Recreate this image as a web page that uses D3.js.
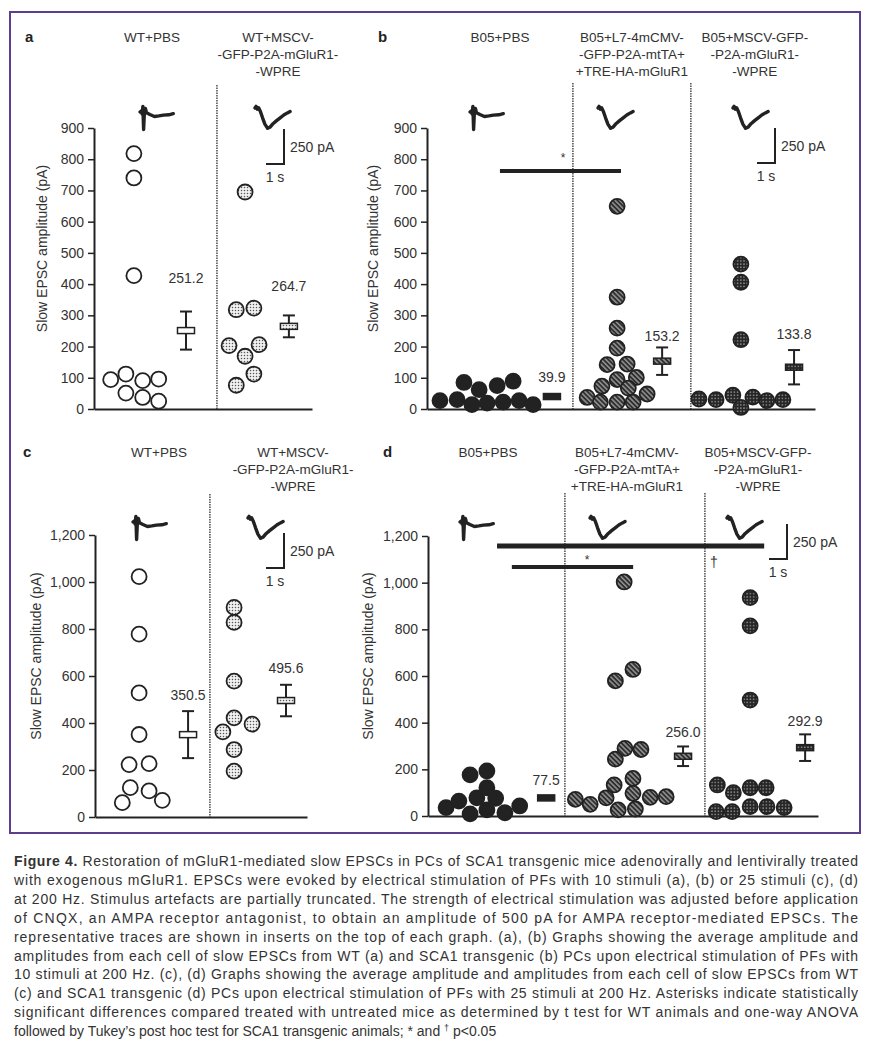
<!DOCTYPE html>
<html>
<head>
<meta charset="utf-8">
<script src="https://cdn.jsdelivr.net/npm/d3@7"></script>
<style>
  body { margin: 0; background: #fff; }
  svg text { font-family: "Liberation Sans", Arial, sans-serif; fill: #333; }
</style>
</head>
<body>
<div id="chart"></div>
<script>
// ---- data ----
var headersWT = [["WT+PBS"], ["WT+MSCV-", "-GFP-P2A-mGluR1-", "-WPRE"]];
var headersB05 = [["B05+PBS"], ["B05+L7-4mCMV-", "-GFP-P2A-mtTA+", "+TRE-HA-mGluR1"], ["B05+MSCV-GFP-", "-P2A-mGluR1-", "-WPRE"]];

var ticks10 = [0, 100, 200, 300, 400, 500, 600, 700, 800, 900];
var ticks25 = [0, 200, 400, 600, 800, 1000, 1200];

// panel a : WT, 10 stimuli
var aValues = [[818, 740, 427, 94, 112, 91, 96, 51, 37, 25], [695, 318, 323, 203, 169, 206, 112, 76]];
var aLanes = [[0, 0, 0, -2.9, -1, 1.1, 3.1, -1, 1.1, 3.1], [0, -1.1, 1.1, -2, 0, 1.75, 1.1, -1.1]];
var aMeans = [251.2, 264.7];
var aSem = [61, 35];

// panel b : B05, 10 stimuli
var bValues = [[27, 30, 85, 14, 62, 19, 75, 22, 89, 27, 14],
               [649, 358, 259, 195, 142, 144, 94, 73, 101, 67, 48, 37, 22, 22, 22],
               [464, 406, 222, 32, 30, 44, 38, 5, 27, 30]];
var bLanes = [[-5.9, -3.75, -2.9, -1.9, -1, 0, 1.25, 2, 3.25, 4, 5.75],
              [0, 0, 0, 0, -1.25, 1.25, 0, -1.9, 2.4, 1.4, 3.75, -3.75, -2.1, 0, 2],
              [0, 0, 0, -5.25, -3.1, -1, 1.5, 0, 3.25, 5.25]];
var bMeans = [39.9, 153.2, 133.8];
var bSem = [5, 44, 55];

// panel c : WT, 25 stimuli
var cValues = [[1023, 778, 528, 351, 223, 227, 125, 111, 61, 71], [892, 828, 578, 422, 395, 362, 287, 195]];
var cLanes = [[0, 0, 0, 0, -1.25, 1.25, -1.1, 1.25, -2.1, 2.9], [0, 0, 0, 0, 2.25, -1.4, 0, 0]];
var cMeans = [350.5, 495.6];
var cSem = [100, 67];

// panel d : B05, 25 stimuli
var dValues = [[36, 64, 176, 9, 78, 193, 121, 26, 76, 14, 43],
               [1003, 579, 628, 290, 285, 244, 133, 161, 97, 71, 50, 78, 26, 30, 80, 83],
               [936, 815, 497, 133, 100, 121, 121, 19, 19, 40, 40, 36]];
var dLanes = [[-5.1, -3.5, -2.1, -2.1, -1.25, 0, 0, 0, 1.1, 2.25, 4.1],
              [0, -1.1, 1.1, 0.1, 2.1, -1.1, -1.25, 1.1, 1.1, -6.1, -4.25, -2.25, -0.75, 1.4, 3.25, 5.25],
              [0, 0, 0, -4.1, -2.1, 0, 2, -4.25, -2.25, 0, 2.1, 4.25]];
var dMeans = [77.5, 256.0, 292.9];
var dSem = [6, 42, 57];

// representative traces: [time (s), current (pA)]
var tracePBS = [[0, 0], [0.08, 8], [0.12, -15], [0.16, 40], [0.2, -125], [0.24, -10], [0.3, 25], [0.36, -5],
                [0.55, -18], [0.8, -32], [1.05, -28], [1.3, -22], [1.6, -20], [1.85, -12]];
var traceMGluR = [[0, 0], [0.06, 12], [0.12, -8], [0.2, 2], [0.3, -25], [0.42, -70], [0.55, -115], [0.7, -145],
                  [0.85, -135], [1.0, -112], [1.2, -90], [1.4, -70], [1.6, -50], [1.8, -35], [1.95, -25]];

var captionLines = [
  "Restoration of mGluR1-mediated slow EPSCs in PCs of SCA1 transgenic mice adenovirally and lentivirally treated",
  "with exogenous mGluR1. EPSCs were evoked by electrical stimulation of PFs with 10 stimuli (a), (b) or 25 stimuli (c), (d)",
  "at 200 Hz. Stimulus artefacts are partially truncated. The strength of electrical stimulation was adjusted before application",
  "of CNQX, an AMPA receptor antagonist, to obtain an amplitude of 500 pA for AMPA receptor-mediated EPSCs. The",
  "representative traces are shown in inserts on the top of each graph. (a), (b) Graphs showing the average amplitude and",
  "amplitudes from each cell of slow EPSCs from WT (a) and SCA1 transgenic (b) PCs upon electrical stimulation of PFs with",
  "10 stimuli at 200 Hz. (c), (d) Graphs showing the average amplitude and amplitudes from each cell of slow EPSCs from WT",
  "(c) and SCA1 transgenic (d) PCs upon electrical stimulation of PFs with 25 stimuli at 200 Hz. Asterisks indicate statistically",
  "significant differences compared treated with untreated mice as determined by t test for WT animals and one-way ANOVA",
  "followed by Tukey\u2019s post hoc test for SCA1 transgenic animals; * and "
];

// ---- layout (x positions in % along the x axis) ----
var panels = [
  {letter: "a", headers: headersWT, values: aValues, lanes: aLanes, means: aMeans, sem: aSem,
   fills: ["open", "lightDots"], ticks: ticks10, max: 900, fmt: d3.format("d"),
   axisX: 94, axisEnd: 312, yTop: 128, yBottom: 409, headerY: 37, letterX: 25, ylabelX: 42,
   centers: [18.3, 69.3], meanX: [42.2, 89.4], labelV: [404, 378], seps: [56.4], sepTop: 85,
   headerX: [26.6, 84.4],
   traces: [{t: tracePBS, x: 140, y: 112}, {t: traceMGluR, x: 255, y: 108}], bar: {x: 284, y: 164}, sig: [], sigMarks: []},
  {letter: "b", headers: headersB05, values: bValues, lanes: bLanes, means: bMeans, sem: bSem,
   fills: ["solid", "hatch", "darkDots"], ticks: ticks10, max: 900, fmt: d3.format("d"),
   axisX: 427, axisEnd: 815, yTop: 128, yBottom: 409, headerY: 37, letterX: 378, ylabelX: 373,
   centers: [15.5, 49.0, 80.9], meanX: [32.2, 60.6, 94.6], labelV: [86, 218, 224], seps: [37.6, 68.0], sepTop: 83,
   headerX: [18.8, 52.8, 84.5],
   traces: [{t: tracePBS, x: 470, y: 112}, {t: traceMGluR, x: 598, y: 108}, {t: traceMGluR, x: 733, y: 108}],
   bar: {x: 775, y: 163},
   sig: [{x1: 18.8, x2: 50, v: 762, w: 4}], sigMarks: [{x: 35.1, v: 790, s: "*"}]},
  {letter: "c", headers: headersWT, values: cValues, lanes: cLanes, means: cMeans, sem: cSem,
   fills: ["open", "lightDots"], ticks: ticks25, max: 1200, fmt: d3.format(","),
   axisX: 95, axisEnd: 307, yTop: 535, yBottom: 817, headerY: 452, letterX: 23, ylabelX: 36,
   centers: [20.8, 65.6], meanX: [43.9, 90.1], labelV: [498, 613], seps: [54.2], sepTop: 494,
   headerX: [30.2, 93.4],
   traces: [{t: tracePBS, x: 133, y: 522}, {t: traceMGluR, x: 248, y: 518}], bar: {x: 284, y: 568}, sig: [], sigMarks: []},
  {letter: "d", headers: headersB05, values: dValues, lanes: dLanes, means: dMeans, sem: dSem,
   fills: ["solid", "hatch", "darkDots"], ticks: ticks25, max: 1200, fmt: d3.format(","),
   axisX: 428, axisEnd: 818, yTop: 536, yBottom: 816, headerY: 452, letterX: 383, ylabelX: 368,
   centers: [15.1, 50.3, 82.6], meanX: [30.3, 65.4, 96.7], labelV: [133, 339, 386], seps: [35.1, 71.0], sepTop: 493,
   headerX: [15.4, 51.0, 84.6],
   traces: [{t: tracePBS, x: 460, y: 522}, {t: traceMGluR, x: 590, y: 518}, {t: traceMGluR, x: 727, y: 518}],
   bar: {x: 787, y: 559},
   sig: [{x1: 17.7, x2: 86.2, v: 1157, w: 5}, {x1: 21.5, x2: 52.6, v: 1067, w: 4}],
   sigMarks: [{x: 40.8, v: 1078, s: "*"}, {x: 73.3, v: 1068, s: "\u2020"}]}
];

var W = 870, H = 1057;
var ink = "#222";

var svg = d3.select("#chart").append("svg").attr("width", W).attr("height", H);

// fill patterns
var defs = svg.append("defs");
var p = defs.append("pattern").attr("id", "lightDots").attr("width", 3).attr("height", 3)
  .attr("patternUnits", "userSpaceOnUse");
p.append("rect").attr("width", 3).attr("height", 3).attr("fill", "#f0f0f0");
p.append("circle").attr("cx", 1.5).attr("cy", 1.5).attr("r", 0.75).attr("fill", "#555");

p = defs.append("pattern").attr("id", "hatch").attr("width", 3.4).attr("height", 3.4)
  .attr("patternUnits", "userSpaceOnUse").attr("patternTransform", "rotate(-45)");
p.append("rect").attr("width", 3.4).attr("height", 3.4).attr("fill", "#2e2e2e");
p.append("line").attr("x1", 0.8).attr("y1", 0).attr("x2", 0.8).attr("y2", 3.4)
  .attr("stroke", "#bbb").attr("stroke-width", 1.1);

p = defs.append("pattern").attr("id", "darkDots").attr("width", 3.2).attr("height", 3.2)
  .attr("patternUnits", "userSpaceOnUse");
p.append("rect").attr("width", 3.2).attr("height", 3.2).attr("fill", "#262626");
p.append("circle").attr("cx", 1.6).attr("cy", 1.6).attr("r", 0.7).attr("fill", "#bbb");

function fillOf(kind) {
  if (kind === "open") return "#fff";
  if (kind === "solid") return ink;
  return "url(#" + kind + ")";
}

// frame
svg.append("rect").attr("x", 10).attr("y", 12).attr("width", 850).attr("height", 821)
  .attr("fill", "none").attr("stroke", "#5b3f8c").attr("stroke-width", 2);

// scales for the inserted traces: 250 pA = 35 px, 1 s = 18 px
var tScale = d3.scaleLinear().domain([0, 1]).range([0, 18]);
var iScale = d3.scaleLinear().domain([0, 250]).range([0, -35]);
var traceLine = d3.line().x(function(d) { return tScale(d[0]); }).y(function(d) { return iScale(d[1]); })
  .curve(d3.curveLinear);

var lane = d3.scaleLinear().domain([0, 1]).range([0, 8]);

panels.forEach(function(P) {
  var g = svg.append("g");
  var x = d3.scaleLinear().domain([0, 100]).range([P.axisX, P.axisEnd]);
  var y = d3.scaleLinear().domain([0, P.max]).range([P.yBottom, P.yTop]);

  // letter and headers
  g.append("text").attr("x", P.letterX).attr("y", P.headerY + 5).attr("font-size", 15)
    .attr("font-weight", "bold").style("fill", ink).text(P.letter);
  P.headers.forEach(function(lines, i) {
    lines.forEach(function(s, j) {
      g.append("text").attr("x", x(P.headerX[i])).attr("y", P.headerY + 5 + j * 17)
        .attr("text-anchor", "middle").attr("font-size", 13.5).text(s);
    });
  });

  // separators
  P.seps.forEach(function(s) {
    g.append("line").attr("x1", x(s)).attr("x2", x(s)).attr("y1", P.sepTop).attr("y2", P.yBottom)
      .attr("stroke", "#555").attr("stroke-width", 1.6).attr("stroke-dasharray", "1.5,1");
  });

  // axes
  var ya = g.append("g").attr("transform", "translate(" + P.axisX + ",0)")
    .call(d3.axisLeft(y).tickValues(P.ticks).tickFormat(P.fmt).tickSize(6).tickSizeOuter(0).tickPadding(4));
  ya.select(".domain").attr("stroke", ink).attr("stroke-width", 2);
  ya.selectAll(".tick line").attr("stroke", ink).attr("stroke-width", 1.5);
  ya.selectAll(".tick text").attr("font-size", 14).attr("font-family", "Liberation Sans, Arial, sans-serif")
    .style("fill", "#333");
  var xa = g.append("g").attr("transform", "translate(0," + P.yBottom + ")")
    .call(d3.axisBottom(x).tickValues([]).tickSizeOuter(0));
  xa.select(".domain").attr("stroke", ink).attr("stroke-width", 2);

  g.append("text").attr("transform", "translate(" + P.ylabelX + "," + ((P.yTop + P.yBottom) / 2 - 20) + ") rotate(-90)")
    .attr("text-anchor", "middle").attr("dy", "0.35em").attr("font-size", 14).text("Slow EPSC amplitude (pA)");

  // points
  P.values.forEach(function(vals, gi) {
    g.append("g").selectAll("circle").data(vals).enter().append("circle")
      .attr("cx", function(d, k) { return x(P.centers[gi]) + lane(P.lanes[gi][k]); })
      .attr("cy", function(d) { return y(d); })
      .attr("r", 7.5)
      .attr("fill", fillOf(P.fills[gi]))
      .attr("stroke", ink).attr("stroke-width", 1.8);
  });

  // mean +- sem
  P.means.forEach(function(m, gi) {
    var cx = x(P.meanX[gi]);
    var eb = g.append("g");
    eb.append("line").attr("x1", cx).attr("x2", cx).attr("y1", y(m - P.sem[gi])).attr("y2", y(m + P.sem[gi]))
      .attr("stroke", ink).attr("stroke-width", 2);
    [m - P.sem[gi], m + P.sem[gi]].forEach(function(v) {
      eb.append("line").attr("x1", cx - 6).attr("x2", cx + 6).attr("y1", y(v)).attr("y2", y(v))
        .attr("stroke", ink).attr("stroke-width", 2);
    });
    eb.append("rect").attr("x", cx - 8.5).attr("y", y(m) - 3).attr("width", 17).attr("height", 6)
      .attr("fill", fillOf(P.fills[gi])).attr("stroke", ink).attr("stroke-width", 1.5);
    g.append("text").attr("x", cx).attr("y", y(P.labelV[gi])).attr("text-anchor", "middle")
      .attr("font-size", 14).text(d3.format(".1f")(m));
  });

  // significance bars
  P.sig.forEach(function(s) {
    g.append("line").attr("x1", x(s.x1)).attr("x2", x(s.x2)).attr("y1", y(s.v)).attr("y2", y(s.v))
      .attr("stroke", ink).attr("stroke-width", s.w);
  });
  P.sigMarks.forEach(function(s) {
    g.append("text").attr("x", x(s.x)).attr("y", y(s.v)).attr("text-anchor", "middle")
      .attr("font-size", s.s === "*" ? 12 : 14).style("fill", "#333").text(s.s);
  });

  // representative traces
  P.traces.forEach(function(tr) {
    g.append("path").attr("transform", "translate(" + tr.x + "," + tr.y + ")")
      .attr("d", traceLine(tr.t)).attr("fill", "none").attr("stroke", ink)
      .attr("stroke-width", 3.4).attr("stroke-linejoin", "round").attr("stroke-linecap", "round");
  });

  // scale bar
  var b = P.bar;
  var sb = g.append("g").attr("transform", "translate(" + b.x + "," + b.y + ")");
  sb.append("path").attr("d", d3.line()([[0, iScale(250)], [0, 0], [-tScale(1), 0]]))
    .attr("fill", "none").attr("stroke", ink).attr("stroke-width", 2);
  sb.append("text").attr("x", 6).attr("y", iScale(125) + 5).attr("font-size", 14).text("250 pA");
  sb.append("text").attr("x", -tScale(0.5)).attr("y", 18).attr("text-anchor", "middle").attr("font-size", 14).text("1 s");
});

// caption (justified lines)
var cap = svg.append("g");
captionLines.forEach(function(s, i) {
  var t = cap.append("text").attr("x", 14).attr("y", 866 + i * 18.9).attr("font-size", 14)
    .style("fill", "#333");
  if (i === 0) {
    t.append("tspan").attr("font-weight", "bold").text("Figure 4. ");
  }
  t.append("tspan").text(s);
  if (i === captionLines.length - 1) {
    t.append("tspan").attr("baseline-shift", "super").attr("font-size", 9).text("\u2020");
    t.append("tspan").text(" p<0.05");
  } else {
    t.attr("textLength", 844).attr("lengthAdjust", "spacing");
  }
});
</script>
</body>
</html>
